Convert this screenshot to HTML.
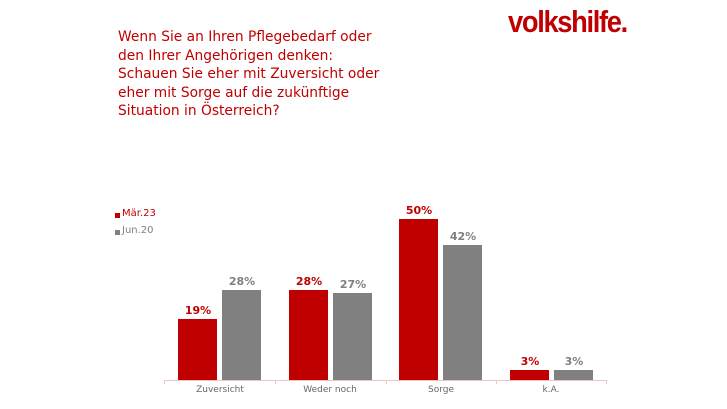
<!DOCTYPE html>
<html><head><meta charset="utf-8"><style>
body{margin:0;width:727px;height:409px;background:#fff;overflow:hidden;position:relative;font-family:"DejaVu Sans","Liberation Sans",sans-serif}
.t{position:absolute;left:118px;top:28px;color:#c00000;font-size:13.8px;line-height:18.6px;font-family:"DejaVu Sans",sans-serif}
.logo{position:absolute;left:508px;top:4px;color:#c00000;font:bold 31px "Liberation Sans",sans-serif;letter-spacing:-1.5px;transform:scaleX(0.88);transform-origin:left}
.b{position:absolute}
.l{position:absolute;font-size:11px;font-weight:bold;text-align:center;width:50px}
.c{position:absolute;font-size:9px;color:#666;text-align:center;width:100px;top:385px}
</style></head><body>
<div class="t">Wenn Sie an Ihren Pflegebedarf oder<br>den Ihrer Angehörigen denken:<br>Schauen Sie eher mit Zuversicht oder<br>eher mit Sorge auf die zukünftige<br>Situation in Österreich?</div>
<div class="logo">volkshilfe.</div>
<div class="b" style="left:115px;top:213px;width:5px;height:5px;background:#c00000"></div>
<div style="position:absolute;left:122px;top:208px;font-size:10px;color:#c00000">Mär.23</div>
<div class="b" style="left:115px;top:230px;width:5px;height:5px;background:#808080"></div>
<div style="position:absolute;left:122px;top:225px;font-size:10px;color:#808080">Jun.20</div>
<div class="b" style="left:164px;top:380px;width:443px;height:1px;background:#f2c4c4"></div>
<div class="b" style="left:164px;top:380px;width:1px;height:4px;background:#f2c4c4"></div>
<div class="b" style="left:275px;top:380px;width:1px;height:4px;background:#f2c4c4"></div>
<div class="b" style="left:386px;top:380px;width:1px;height:4px;background:#f2c4c4"></div>
<div class="b" style="left:496px;top:380px;width:1px;height:4px;background:#f2c4c4"></div>
<div class="b" style="left:606px;top:380px;width:1px;height:4px;background:#f2c4c4"></div>

<div class="b" style="left:178px;top:319px;width:39px;height:61px;background:#c00000"></div>
<div class="b" style="left:222px;top:290px;width:39px;height:90px;background:#808080"></div>
<div class="b" style="left:289px;top:290px;width:39px;height:90px;background:#c00000"></div>
<div class="b" style="left:333px;top:293px;width:39px;height:87px;background:#808080"></div>
<div class="b" style="left:399px;top:219px;width:39px;height:161px;background:#c00000"></div>
<div class="b" style="left:443px;top:245px;width:39px;height:135px;background:#808080"></div>
<div class="b" style="left:510px;top:370px;width:39px;height:10px;background:#c00000"></div>
<div class="b" style="left:554px;top:370px;width:39px;height:10px;background:#808080"></div>

<div class="l" style="left:173px;top:304px;color:#c00000">19%</div>
<div class="l" style="left:217px;top:275px;color:#808080">28%</div>
<div class="l" style="left:284px;top:275px;color:#c00000">28%</div>
<div class="l" style="left:328px;top:278px;color:#808080">27%</div>
<div class="l" style="left:394px;top:204px;color:#c00000">50%</div>
<div class="l" style="left:438px;top:230px;color:#808080">42%</div>
<div class="l" style="left:505px;top:355px;color:#c00000">3%</div>
<div class="l" style="left:549px;top:355px;color:#808080">3%</div>

<div class="c" style="left:170px">Zuversicht</div>
<div class="c" style="left:280px">Weder noch</div>
<div class="c" style="left:391px">Sorge</div>
<div class="c" style="left:501px">k.A.</div>
</body></html>
